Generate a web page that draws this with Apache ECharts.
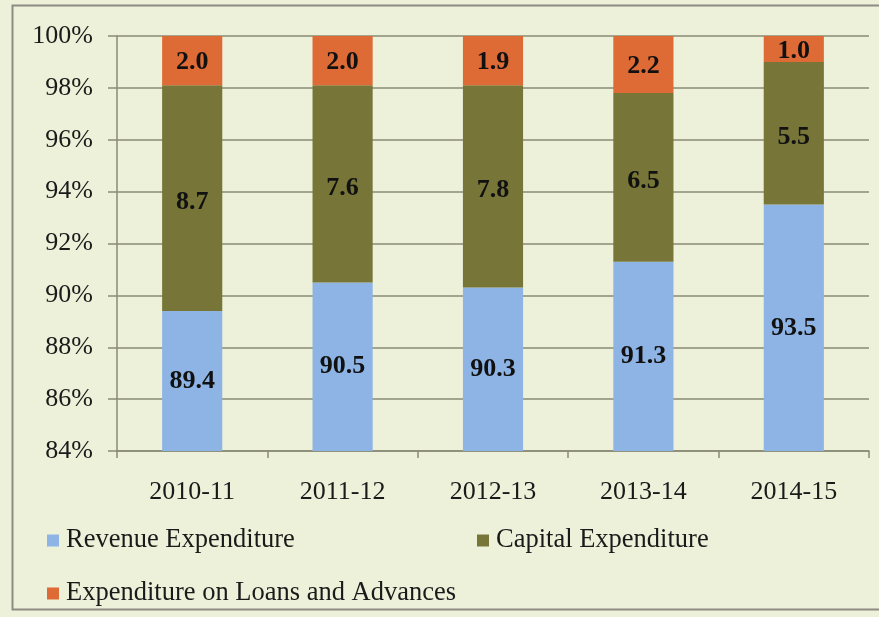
<!DOCTYPE html>
<html>
<head>
<meta charset="utf-8">
<script src="https://cdn.jsdelivr.net/npm/echarts@6/dist/echarts.min.js"></script>
<style>
  html, body { margin: 0; padding: 0; background: #eef1d9; }
  #chart { width: 879px; height: 617px; }
</style>
</head>
<body>
<div id="chart"></div>
<script>
// Share of total expenditure by component (per cent)
const years = ['2010-11', '2011-12', '2012-13', '2013-14', '2014-15'];
const revenueExp = [89.4, 90.5, 90.3, 91.3, 93.5];
const capitalExp = [8.7, 7.6, 7.8, 6.5, 5.5];
const loansExp = [2.0, 2.0, 1.9, 2.2, 1.0];
const seriesNames = ['Revenue Expenditure', 'Capital Expenditure', 'Expenditure on Loans and Advances'];
const seriesColors = ['#8db4e4', '#777638', '#de6a36'];

const FONT = '"Liberation Serif", "Times New Roman", serif';

function barSeries(name, data, color, labelShift) {
  return {
    name: name,
    type: 'bar',
    stack: 'total',
    barWidth: '40%',
    data: data,
    itemStyle: { color: color },
    label: {
      show: true,
      position: 'inside',
      offset: [0, labelShift],
      fontFamily: FONT,
      fontWeight: 'bold',
      fontSize: 26,
      color: '#111',
      formatter: p => p.value.toFixed(1)
    },
    emphasis: { disabled: true }
  };
}

function legendAt(name, left, top) {
  return {
    data: [name],
    left: left,
    top: top,
    itemWidth: 12,
    itemHeight: 12,
    icon: 'rect',
    padding: 0,
    textStyle: { fontFamily: FONT, fontSize: 26.5, color: '#1a1a1a', padding: [0, 0, 0, 2] }
  };
}

const chart = echarts.init(document.getElementById('chart'), null, { renderer: 'canvas' });
chart.setOption({
  backgroundColor: '#eef1d9',
  animation: false,
  graphic: [{
    type: 'rect',
    shape: { x: 12.5, y: 5.5, width: 900, height: 604 },
    style: { fill: 'none', stroke: '#8c8c84', lineWidth: 2 },
    z: -1
  }],
  grid: { left: 117, right: 10, top: 36, bottom: 166 },
  legend: [
    legendAt(seriesNames[0], 47, 527),
    legendAt(seriesNames[1], 477, 527),
    legendAt(seriesNames[2], 47, 580)
  ],
  xAxis: {
    type: 'category',
    data: years,
    axisLine: { lineStyle: { color: '#8a8a74', width: 1.5 } },
    axisTick: { show: true, length: 7, lineStyle: { color: '#8a8a74', width: 1.5 } },
    axisLabel: { fontFamily: FONT, fontSize: 26, color: '#1a1a1a', margin: 28 }
  },
  yAxis: {
    type: 'value',
    min: 84,
    max: 100,
    interval: 2,
    axisLine: { show: true, lineStyle: { color: '#8a8a74', width: 1.5 } },
    axisTick: { show: true, length: 9, lineStyle: { color: '#8a8a74', width: 1.5 } },
    splitLine: { lineStyle: { color: '#8a8a74', width: 1.5 } },
    axisLabel: { fontFamily: FONT, fontSize: 26, color: '#1a1a1a', margin: 24, formatter: v => v + '%' }
  },
  series: [
    barSeries(seriesNames[0], revenueExp, seriesColors[0], 0),
    barSeries(seriesNames[1], capitalExp, seriesColors[1], 4),
    barSeries(seriesNames[2], loansExp, seriesColors[2], 2)
  ]
});
</script>
</body>
</html>
